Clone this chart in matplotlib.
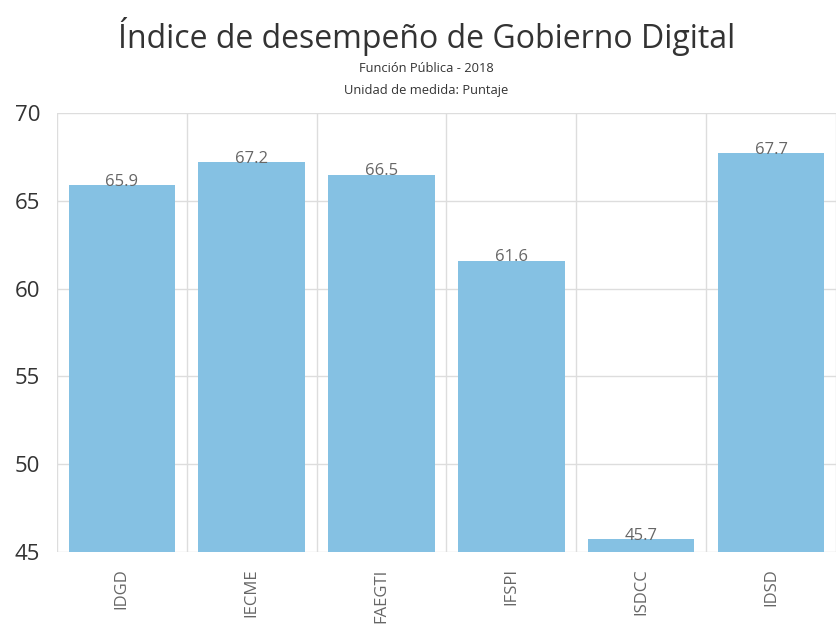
import matplotlib
matplotlib.use("Agg")
import matplotlib.pyplot as plt
import numpy as np

categories = ["IDGD", "IECME", "FAEGTI", "IFSPI", "ISDCC", "IDSD"]
values = [65.9, 67.2, 66.5, 61.6, 45.7, 67.7]
yticks = [45, 50, 55, 60, 65, 70]

plt.rcParams['font.family'] = ['Open Sans', 'DejaVu Sans']

fig = plt.figure(figsize=(8.36, 6.32), dpi=100)
ax = fig.add_axes([0.068, 0.127, 0.932, 0.694])

x = np.arange(len(categories))
bars = ax.bar(x, values, width=0.82, color="#85C1E3", zorder=2)
for xi, v in zip(x, values):
    ax.text(xi, v + 0.2, f"{v}", ha="center", va="center", fontsize=12,
            color="#666666", zorder=3)

ax.set_ylim(45, 70)
ax.set_xlim(-0.5, len(categories) - 0.5)
ax.set_yticks(yticks)
ax.set_yticklabels([str(t) for t in yticks], fontsize=16, color="#333333")
ax.set_xticks(x)
ax.set_xticklabels(categories, rotation=90, fontsize=12, color="#666666")
ax.set_xticks(np.arange(len(categories) + 1) - 0.5, minor=True)
ax.tick_params(axis="both", which="both", length=0)
ax.tick_params(axis="x", pad=12)
ax.tick_params(axis="y", pad=12)
ax.grid(axis="y", which="major", color="#dddddd", linewidth=1, zorder=0)
ax.grid(axis="x", which="minor", color="#dddddd", linewidth=1, zorder=0)
for s in ax.spines.values():
    s.set_visible(False)

fig.text(0.51, 0.942, "Índice de desempeño de Gobierno Digital", ha="center",
         va="center", fontsize=23, color="#333333")
fig.text(0.51, 0.892, "Función Pública - 2018", ha="center", va="center",
         fontsize=9.3, color="#333333")
fig.text(0.51, 0.857, "Unidad de medida: Puntaje", ha="center", va="center",
         fontsize=9.3, color="#333333")

fig.savefig("out.png", dpi=100)
